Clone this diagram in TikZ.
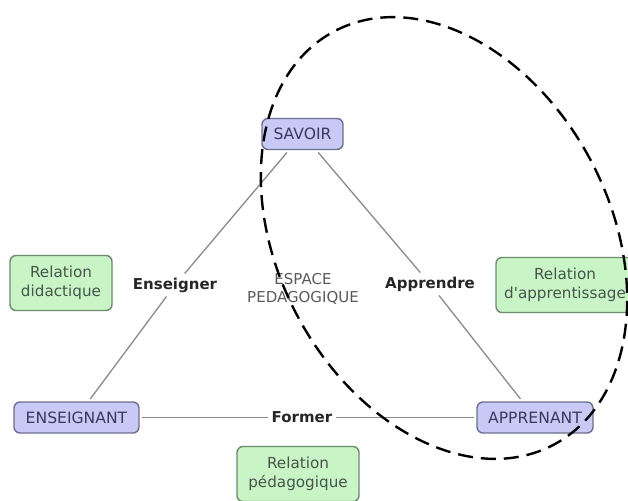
\documentclass[tikz,border=0pt]{standalone}
\usepackage{fontspec}
\setmainfont{DejaVu Sans}
\definecolor{conceptfill}{HTML}{C9C9F6}
\definecolor{conceptdraw}{HTML}{6E6E90}
\definecolor{concepttext}{HTML}{3A3A5E}
\definecolor{relfill}{HTML}{C8F4C6}
\definecolor{reldraw}{HTML}{6C8C6A}
\definecolor{reltext}{HTML}{45574A}
\definecolor{linkgray}{HTML}{8A8A8A}
\definecolor{espacetext}{HTML}{5A5A5A}
\begin{document}
\begin{tikzpicture}[x=1pt,y=-1pt,
  concept/.style={rounded corners=6pt, draw=conceptdraw, fill=conceptfill,
    line width=1.4pt, text=concepttext, font=\fontsize{15.6}{18}\selectfont,
    minimum height=31pt, inner sep=2pt, outer sep=3pt},
  relbox/.style={rounded corners=6pt, draw=reldraw, fill=relfill,
    line width=1.4pt, text=reltext, font=\fontsize{15.2}{19}\selectfont,
    align=center, minimum height=55pt, inner sep=2pt},
  linklabel/.style={font=\bfseries\fontsize{15}{18}\selectfont, text=black!85,
    inner sep=4pt},
  espace/.style={font=\fontsize{15}{18}\selectfont, text=espacetext, align=center},
  link/.style={draw=linkgray, line width=1.3pt},
  zone/.style={draw=black, line width=2.4pt, dash pattern=on 15pt off 8pt}
]
\useasboundingbox (0,0) rectangle (628,500);
\fill[white] (0,0) rectangle (628,500);

% the three poles of the triangle
\node[concept, minimum width=81pt]  (savoir)     at (302.5,134)   {SAVOIR};
\node[concept, minimum width=125pt] (enseignant) at (76.5,417.5)  {ENSEIGNANT};
\node[concept, minimum width=116pt] (apprenant)  at (535,417.5)   {APPRENANT};

% relations
\node[relbox, minimum width=102pt] (reldid) at (61,283)  {Relation\\didactique};
\node[relbox, minimum width=138pt] (relapp) at (565,285) {Relation\\d\textquotesingle apprentissage};
\node[relbox, minimum width=122pt] (relped) at (298,474) {Relation\\pédagogique};

% link labels
\node[linklabel] (enseigner) at (175,285)   {Enseigner};
\node[linklabel] (apprendre) at (430,284)   {Apprendre};
\node[linklabel] (former)    at (302,417.5) {Former};

\node[espace] (espace) at (303,289) {ESPACE\\PEDAGOGIQUE};

% connectors
\draw[link] (savoir) -- (enseigner);
\draw[link] (enseigner) -- (enseignant);
\draw[link] (savoir) -- (apprendre);
\draw[link] (apprendre) -- (apprenant);
\draw[link] (enseignant) -- (former);
\draw[link] (former) -- (apprenant);

% dashed zone around the learning side
\coordinate (zc) at (444,238);
\draw[zone, rotate around={28:(zc)}] (zc) ellipse [x radius=166pt, y radius=234pt];
\end{tikzpicture}
\end{document}
